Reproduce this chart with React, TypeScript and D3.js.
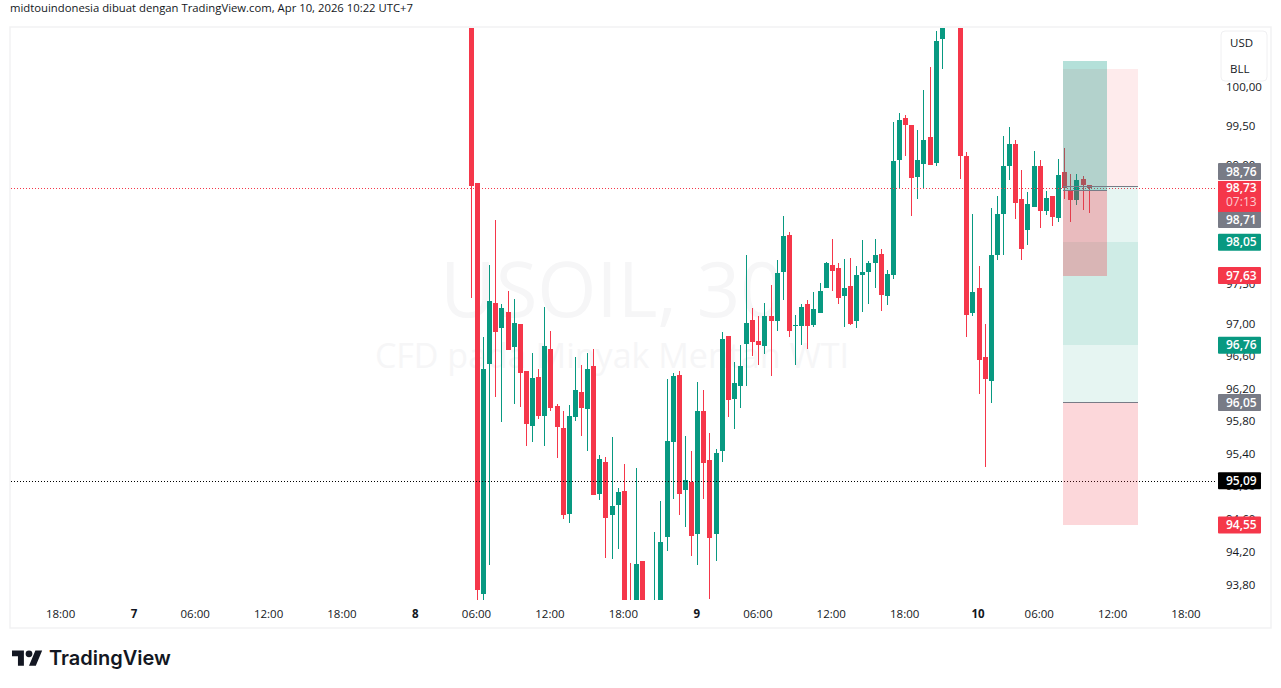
import React, { useEffect, useRef } from "react";
import * as d3 from "d3";

// 30 minute candles, index 0 is the first bar of the session on the 8th
const opens = [
  101.9, 98.8, 93.71, 96.53, 97.29, 96.98, 97.18, 96.74, 97.03, 96.44, 95.76, 96.37, 95.88, 96.71, 96.01, 95.74, 94.68,
  95.87, 96.18, 95.97, 96.5, 94.93, 95.32, 94.67, 94.79, 94.97, 93.55, 93.4, 94.11, 93.55, 93.45, 93.5, 94.41, 95.57,
  96.39, 94.98, 95.08, 94.44, 95.95, 95.34, 94.44, 95.45, 96.88, 96.09, 96.25, 96.78, 97.08, 96.81, 96.75, 97.12, 97.06,
  97.68, 98.14, 97.0, 97.0, 97.27, 97.01, 97.16, 97.47, 97.76, 97.73, 97.38, 97.5, 97.06, 97.64, 97.68, 97.79, 97.9,
  97.38, 97.64, 99.09, 99.63, 99.54, 98.87, 99.04, 99.39, 99.05, 100.64, 101.2, 101.5, 101.1, 99.14, 97.16, 97.47,
  96.61, 96.32, 97.89, 98.4, 99.02, 99.3, 98.59, 98.21, 98.5, 99.02, 98.44, 98.63, 98.35, 98.94, 98.7, 98.58, 98.85,
  98.78,
];
const closes = [
  98.76, 93.76, 96.46, 97.31, 96.92, 97.22, 96.7, 97.04, 96.41, 95.79, 96.35, 95.88, 96.75, 95.98, 95.75, 94.67, 95.88,
  96.2, 95.98, 96.46, 94.92, 95.35, 94.64, 94.78, 94.95, 93.4, 93.3, 94.08, 93.35, 93.4, 93.58, 94.35, 95.58, 96.38,
  94.93, 95.1, 94.42, 95.95, 95.31, 94.39, 95.43, 96.84, 96.08, 96.29, 96.5, 97.04, 96.8, 96.76, 97.13, 97.06, 97.66,
  98.13, 96.94, 97.01, 97.24, 97.0, 97.21, 97.44, 97.79, 97.69, 97.35, 97.48, 97.03, 97.64, 97.68, 97.79, 97.89, 97.39,
  97.65, 99.08, 99.6, 99.54, 98.86, 99.09, 99.35, 99.03, 100.62, 100.9, 101.5, 101.1, 99.14, 97.14, 97.43, 96.58, 96.34,
  97.89, 98.4, 99.02, 99.3, 98.54, 97.96, 98.53, 99.02, 98.44, 98.61, 98.37, 98.9, 98.73, 98.58, 98.84, 98.77, 98.73,
];
const highs = [
  102.0, 98.8, 96.86, 97.76, 98.33, 97.28, 97.44, 97.34, 97.03, 96.44, 96.66, 96.46, 97.24, 96.94, 96.03, 95.95, 96.02,
  96.61, 96.51, 96.66, 96.71, 95.41, 95.38, 95.63, 95.0, 95.29, 94.09, 95.24, 94.11, 93.58, 94.47, 94.84, 96.34, 96.41,
  96.44, 95.64, 95.45, 96.3, 96.2, 95.68, 95.48, 96.93, 96.88, 96.55, 96.76, 97.89, 97.23, 97.13, 97.29, 97.51, 97.83,
  98.38, 98.18, 97.14, 97.28, 97.32, 97.43, 97.54, 97.8, 98.09, 97.79, 97.84, 97.85, 97.75, 98.08, 97.81, 98.09, 97.96,
  97.7, 99.58, 99.69, 99.67, 99.54, 99.48, 99.99, 100.28, 100.75, 101.0, 101.6, 101.7, 101.2, 99.19, 98.4, 97.75, 97.02,
  98.48, 98.64, 99.4, 99.51, 99.35, 98.96, 98.68, 99.21, 99.09, 98.7, 98.64, 99.1, 99.25, 98.91, 98.91, 98.89, 98.78,
];
const lows = [
  97.35, 93.59, 93.55, 94.06, 96.12, 95.81, 96.7, 96.03, 95.99, 95.51, 95.56, 95.85, 95.51, 95.95, 95.37, 94.62, 94.57,
  95.82, 95.64, 95.45, 94.92, 94.86, 94.15, 94.14, 94.26, 93.3, 93.2, 93.3, 93.25, 93.3, 93.4, 93.4, 94.23, 94.87, 94.67,
  94.53, 94.17, 94.07, 94.87, 93.65, 94.12, 95.32, 95.87, 95.73, 95.98, 96.25, 96.63, 96.51, 96.65, 96.38, 96.94, 97.33,
  96.86, 96.51, 96.76, 96.71, 96.99, 97.16, 97.47, 97.44, 97.27, 96.99, 97.01, 96.98, 97.17, 97.27, 97.47, 97.19, 97.26,
  97.59, 98.73, 99.14, 98.38, 98.59, 98.73, 99.03, 99.01, 100.26, 101.0, 100.95, 98.85, 96.86, 97.12, 96.16, 95.26, 96.04,
  97.83, 97.89, 98.84, 98.34, 97.83, 98.02, 98.5, 98.23, 98.39, 98.25, 98.3, 98.59, 98.31, 98.52, 98.46, 98.42,
];

const priceTicks = [100, 99.5, 99, 98.5, 98, 97.5, 97, 96.6, 96.2, 95.8, 95.4, 95, 94.6, 94.2, 93.8];
const timeTickBars = [-67, -55, -45, -33, -21, -9, 1, 13, 25, 37, 47, 59, 71, 83, 93, 105, 117];
const timeTickLabels = ["18:00", "7", "06:00", "12:00", "18:00", "8", "06:00", "12:00", "18:00", "9", "06:00", "12:00", "18:00", "10", "06:00", "12:00", "18:00"];
const dayLabels = ["7", "8", "9", "10"];

// position tools on the right
const toolStart = [96.83, 96.83, 96.83];
const toolEnd = [109, 109, 104];
const toolEntry = [96.05, 98.76, 98.71];
const toolTarget = [98.05, 96.76, 100.36];
const toolStop = [94.55, 100.26, 97.63];
const toolAlphaProfit = [0.1, 0.1, 0.3];
const toolAlphaStop = [0.2, 0.1, 0.3];

const lastPrice = 98.73;
const alertPrice = 95.09;

// axis badges, the shift is how far TradingView pushed them to avoid overlaps
const badgePrices = [98.76, 98.71, 98.05, 97.63, 96.76, 96.05, 95.09, 94.55];
const badgeColors = ["#787b86", "#787b86", "#089981", "#f5374a", "#089981", "#787b86", "#000000", "#f5374a"];
const badgeShift = [-14.5, 29.5, 0, 0, 0, 0, 0, 0];

const FONT = "'Open Sans', 'Noto Sans', sans-serif";
const GREEN = "#089981";
const RED = "#f5374a";
const TOOL_RED = "#f23645";

const App: React.FC = () => {
  const svgRef = useRef<SVGSVGElement | null>(null);

  useEffect(() => {
    if (!svgRef.current) return;
    const svg = d3.select(svgRef.current);
    svg.selectAll("*").remove();

    const plot = { left: 11, right: 1217, top: 28, bottom: 600 };

    const x = d3.scaleLinear().domain([1, 117]).range([477, 1186.5]);
    const y = d3.scaleLog().domain([100, 93.8]).range([89, 587]);
    const fmt = (v: number) => v.toFixed(2).replace(".", ",");

    svg.append("rect").attr("width", 1281).attr("height", 688).attr("fill", "#fff");

    // Title
    svg
      .append("text")
      .attr("x", 10)
      .attr("y", 12)
      .attr("font-family", FONT)
      .attr("font-size", 11.3)
      .attr("fill", "#131722")
      .text("midtouindonesia dibuat dengan TradingView.com, Apr 10, 2026 10:22 UTC+7");

    // Frame
    svg
      .append("rect")
      .attr("x", 10)
      .attr("y", 27)
      .attr("width", 1261)
      .attr("height", 601)
      .attr("fill", "none")
      .attr("stroke", "#f2f2f3")
      .attr("stroke-width", 1.5);

    // Watermark
    const wm = svg.append("g").attr("font-family", FONT).attr("fill", "#f6f6f7").attr("text-anchor", "middle");
    wm.append("text").attr("x", 612).attr("y", 317).attr("font-size", 76).text("USOIL, 30");
    wm.append("text").attr("x", 612).attr("y", 368).attr("font-size", 34).text("CFD pada Minyak Mentah WTI");

    svg
      .append("defs")
      .append("clipPath")
      .attr("id", "plot-clip")
      .append("rect")
      .attr("x", plot.left)
      .attr("y", plot.top)
      .attr("width", plot.right - plot.left)
      .attr("height", plot.bottom - plot.top);

    const g = svg.append("g").attr("clip-path", "url(#plot-clip)");

    // Candles
    const color = (i: number) => (closes[i] >= opens[i] ? GREEN : RED);
    const candles = g
      .selectAll("g.candle")
      .data(d3.range(opens.length))
      .join("g")
      .attr("class", "candle")
      .attr("shape-rendering", "crispEdges")
      .attr("fill", (i) => color(i));

    candles
      .append("rect")
      .attr("x", (i) => Math.round(x(i)) - 0.5)
      .attr("width", 1)
      .attr("y", (i) => y(highs[i]))
      .attr("height", (i) => y(lows[i]) - y(highs[i]));

    candles
      .append("rect")
      .attr("x", (i) => Math.round(x(i)) - 2.5)
      .attr("width", 5)
      .attr("y", (i) => y(Math.max(opens[i], closes[i])))
      .attr("height", (i) => Math.max(1, Math.abs(y(opens[i]) - y(closes[i]))));

    // Price lines
    [
      { p: lastPrice, c: RED },
      { p: alertPrice, c: "#000" },
    ].forEach((l) => {
      svg
        .append("line")
        .attr("x1", plot.left)
        .attr("x2", plot.right)
        .attr("y1", Math.round(y(l.p)) + 0.5)
        .attr("y2", Math.round(y(l.p)) + 0.5)
        .attr("stroke", l.c)
        .attr("stroke-dasharray", "1 2");
    });

    // Position tools
    const tools = svg.append("g").attr("shape-rendering", "crispEdges");
    toolEntry.forEach((entry, t) => {
      const x0 = x(toolStart[t]);
      const x1 = x(toolEnd[t]);
      const band = (a: number, b: number, fill: string, alpha: number) =>
        tools
          .append("rect")
          .attr("x", x0)
          .attr("width", x1 - x0)
          .attr("y", Math.min(y(a), y(b)))
          .attr("height", Math.abs(y(a) - y(b)))
          .attr("fill", fill)
          .attr("fill-opacity", alpha);
      band(entry, toolTarget[t], GREEN, toolAlphaProfit[t]);
      band(entry, toolStop[t], TOOL_RED, toolAlphaStop[t]);
    });
    toolEntry.forEach((entry, t) => {
      tools
        .append("line")
        .attr("x1", x(toolStart[t]))
        .attr("x2", x(toolEnd[t]))
        .attr("y1", y(entry))
        .attr("y2", y(entry))
        .attr("stroke", "#787b86");
    });

    // Price axis
    const yAxis = svg
      .append("g")
      .attr("transform", "translate(1226,-2)")
      .call(d3.axisRight(y).tickValues(priceTicks).tickFormat((d) => fmt(Number(d))).tickSize(0).tickPadding(0));
    yAxis.select(".domain").remove();
    yAxis.selectAll("text").attr("font-family", FONT).attr("font-size", 11.5).attr("fill", "#131722");

    // Time axis
    const xAxis = svg
      .append("g")
      .attr("transform", "translate(-1,609.5)")
      .call(
        d3
          .axisBottom(x)
          .tickValues(timeTickBars)
          .tickFormat((_, i) => timeTickLabels[i])
          .tickSize(0)
          .tickPadding(0)
      );
    xAxis.select(".domain").remove();
    xAxis
      .selectAll("text")
      .attr("font-family", FONT)
      .attr("font-size", 11.5)
      .attr("fill", "#131722")
      .attr("font-weight", (_, i) => (dayLabels.includes(timeTickLabels[i]) ? 700 : 400));

    // Currency and unit box
    svg
      .append("rect")
      .attr("x", 1221)
      .attr("y", 31)
      .attr("width", 46)
      .attr("height", 50)
      .attr("rx", 4)
      .attr("fill", "#fff")
      .attr("stroke", "#f0f0f2");
    ["USD", "BLL"].forEach((t, i) => {
      svg
        .append("text")
        .attr("x", 1230)
        .attr("y", 47 + i * 26)
        .attr("font-family", FONT)
        .attr("font-size", 11.5)
        .attr("fill", "#131722")
        .text(t);
    });

    // Axis badges
    const badgeGroup = svg.append("g").attr("font-family", FONT).attr("font-size", 12).attr("font-weight", 600);
    badgePrices.forEach((p, i) => {
      const cy = y(p) + badgeShift[i];
      badgeGroup
        .append("rect")
        .attr("x", 1218)
        .attr("y", cy - 8.5)
        .attr("width", 43)
        .attr("height", 17)
        .attr("rx", 1)
        .attr("fill", badgeColors[i]);
      badgeGroup
        .append("text")
        .attr("x", 1226)
        .attr("y", cy + 4)
        .attr("fill", "#fff")
        .text(fmt(p));
    });

    // Last price badge with the countdown
    const lastY = y(lastPrice);
    badgeGroup
      .append("rect")
      .attr("x", 1218)
      .attr("y", lastY - 7.5)
      .attr("width", 43)
      .attr("height", 31)
      .attr("fill", RED);
    badgeGroup.append("text").attr("x", 1226).attr("y", lastY + 4).attr("fill", "#fff").text(fmt(lastPrice));
    badgeGroup
      .append("text")
      .attr("x", 1226)
      .attr("y", lastY + 18)
      .attr("fill", "#ffffff")
      .attr("fill-opacity", 0.75)
      .attr("font-weight", 400)
      .text("07:13");

    // Logo
    const logo = svg.append("g").attr("transform", "translate(12,647) scale(0.85)").attr("fill", "#131722");
    logo.append("path").attr("d", "M14 22H7V11H0V4h14v18zM28 22h-8l7.5-18h8L28 22z");
    logo.append("circle").attr("cx", 20).attr("cy", 8).attr("r", 4);
    svg
      .append("text")
      .attr("x", 49)
      .attr("y", 665)
      .attr("font-family", "Inter, 'Open Sans', sans-serif")
      .attr("font-size", 20)
      .attr("font-weight", 600)
      .attr("fill", "#131722")
      .text("TradingView");
  }, []);

  return <svg ref={svgRef} width={1281} height={688} style={{ position: "absolute", left: 0, top: 0 }}></svg>;
};

export default App;
